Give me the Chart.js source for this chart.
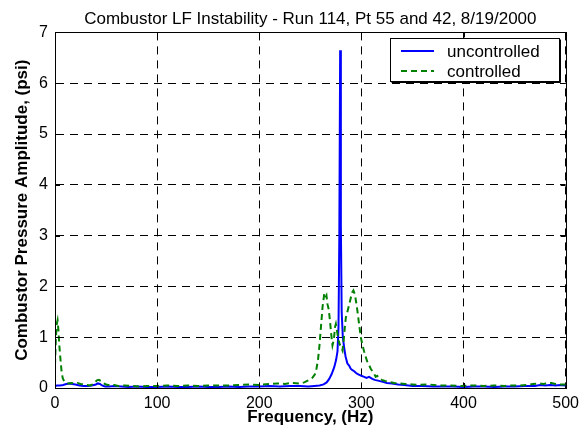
<!DOCTYPE html>
<html>
<head>
<meta charset="utf-8">
<script src="https://cdn.jsdelivr.net/npm/chart.js@4"></script>
<style>
  html, body { margin: 0; padding: 0; background: #fff; }
  #wrap { position: relative; width: 585px; height: 430px; }
</style>
</head>
<body>
<div id="wrap"><canvas id="c"></canvas></div>
<script>
const chartTitle = 'Combustor LF Instability - Run 114, Pt 55 and 42, 8/19/2000';
const xTitle = 'Frequency, (Hz)';
const yTitle = 'Combustor Pressure Amplitude, (psi)';
const seriesNames = ['uncontrolled', 'controlled'];
const xTicks = [0, 100, 200, 300, 400, 500];
const yTicks = [0, 1, 2, 3, 4, 5, 6, 7];

const freqUncontrolled = [
  0, 2, 5, 8, 11, 14, 17, 20, 24, 28,
  32, 36, 40, 42, 44, 46, 49, 53, 58, 65,
  72, 80, 90, 100, 110, 120, 130, 140, 150, 160,
  170, 180, 190, 200, 210, 220, 230, 240, 248, 254,
  259, 263, 266, 268.5, 271, 273.4, 275.2, 276.6, 277.6, 278.4,
  279.2, 279.9, 280.7, 281.8, 283.1, 284.5, 286.3, 288, 289.5, 291.2,
  293, 294.5, 296.1, 298, 300, 302.7, 305, 307.5, 310.7, 313,
  317.3, 321, 325, 330, 336, 342, 350, 360, 370, 380,
  390, 400, 410, 420, 430, 440, 450, 460, 470, 475,
  480, 485, 490, 495, 500
];
const ampUncontrolled = [
  0.04, 0.05, 0.05, 0.06, 0.08, 0.09, 0.08, 0.07, 0.05, 0.04,
  0.04, 0.05, 0.07, 0.09, 0.08, 0.05, 0.03, 0.03, 0.04, 0.03,
  0.02, 0.03, 0.02, 0.02, 0.03, 0.02, 0.02, 0.03, 0.02, 0.02,
  0.03, 0.02, 0.03, 0.03, 0.04, 0.03, 0.04, 0.04, 0.03, 0.04,
  0.05, 0.07, 0.11, 0.18, 0.28, 0.41, 0.55, 0.72, 1.2, 3.0,
  6.65, 3.2, 1.5, 1.0, 0.8, 0.62, 0.48, 0.44, 0.38, 0.35,
  0.33, 0.3, 0.28, 0.26, 0.24, 0.22, 0.2, 0.22, 0.18, 0.16,
  0.14, 0.12, 0.1, 0.09, 0.07, 0.06, 0.04, 0.04, 0.03, 0.03,
  0.03, 0.02, 0.03, 0.03, 0.02, 0.03, 0.03, 0.04, 0.04, 0.06,
  0.05, 0.06, 0.05, 0.06, 0.05
];

const freqControlled = [
  0, 0.8, 1.6, 2.5, 3.3, 4.2, 5.2, 6.3, 7.5, 9,
  11, 13, 16, 19, 22, 25, 28, 31, 34, 37,
  39, 41, 43, 45, 47, 50, 54, 58, 62, 68,
  75, 82, 90, 100, 110, 120, 130, 140, 150, 160,
  170, 180, 190, 200, 210, 218, 225, 232, 239, 244,
  249, 252, 254.5, 256, 257.5, 259, 260.4, 262, 263.6, 264.8,
  265.8, 266.8, 268, 269.2, 270.5, 271.7, 273, 274.2, 275, 276.3,
  277.6, 279, 280.3, 281.5, 282.7, 283.8, 284.8, 286.3, 287.8, 289.7,
  291, 292.2, 293.5, 294.8, 296.1, 297.8, 299.4, 301, 302.7, 304.3,
  306, 307.5, 309.2, 311, 312.5, 314, 315.5, 317.3, 320, 323,
  327, 332, 337, 343, 349.6, 356, 366, 375, 385, 398,
  410, 420, 430, 440, 447, 455, 462, 468, 473.5, 478,
  482, 486, 490, 495, 500
];
const ampControlled = [
  0.45, 0.95, 1.25, 1.33, 1.15, 0.85, 0.6, 0.35, 0.2, 0.13,
  0.1, 0.09, 0.1, 0.09, 0.1, 0.08, 0.07, 0.06, 0.05, 0.07,
  0.11, 0.15, 0.16, 0.14, 0.1, 0.07, 0.05, 0.06, 0.04, 0.05,
  0.04, 0.03, 0.04, 0.04, 0.05, 0.04, 0.05, 0.04, 0.05, 0.05,
  0.05, 0.06, 0.07, 0.06, 0.08, 0.09, 0.08, 0.1, 0.09, 0.11,
  0.16, 0.2, 0.27, 0.38, 0.55, 0.85, 1.2, 1.6, 1.85, 1.78,
  1.82, 1.65, 1.55, 1.33, 1.05, 0.84, 0.95, 1.2, 1.26, 1.1,
  0.94, 0.85, 0.8, 0.74, 0.95, 1.2, 1.39, 1.5, 1.62, 1.78,
  1.88, 1.92, 1.85, 1.7, 1.52, 1.25, 1.0, 0.85, 0.72, 0.61,
  0.5, 0.45, 0.38, 0.32, 0.28, 0.22, 0.24, 0.19, 0.16, 0.14,
  0.12, 0.1, 0.09, 0.08, 0.07, 0.06, 0.07, 0.05, 0.05, 0.04,
  0.05, 0.04, 0.05, 0.04, 0.05, 0.05, 0.06, 0.08, 0.09, 0.08,
  0.09, 0.1, 0.08, 0.07, 0.07
];

function zip(xs, ys) { return xs.map((x, i) => ({ x: x, y: ys[i] })); }

const FONT = "'Liberation Sans', Arial, Helvetica, sans-serif";
Chart.defaults.font.family = FONT;
Chart.defaults.color = '#000';

const frameAndLegend = {
  id: 'frameAndLegend',
  afterDatasetsDraw(chart) {
    const ctx = chart.ctx;
    const a = chart.chartArea;
    const xs = chart.scales.x, ys = chart.scales.y;
    ctx.save();
    ctx.strokeStyle = '#000';
    ctx.lineWidth = 1;
    ctx.setLineDash([]);
    ctx.beginPath();
    xTicks.forEach(v => {
      const px = Math.round(xs.getPixelForValue(v)) + 0.5;
      ctx.moveTo(px, a.bottom); ctx.lineTo(px, a.bottom - 5);
      ctx.moveTo(px, a.top); ctx.lineTo(px, a.top + 5);
    });
    yTicks.forEach(v => {
      const py = Math.round(ys.getPixelForValue(v)) + 0.5;
      ctx.moveTo(a.left, py); ctx.lineTo(a.left + 5, py);
      ctx.moveTo(a.right, py); ctx.lineTo(a.right - 5, py);
    });
    ctx.stroke();
    ctx.strokeRect(Math.round(a.left) + 0.5, Math.round(a.top) + 0.5,
                   Math.round(a.right - a.left), Math.round(a.bottom - a.top));
    const bx = Math.round(a.right) - 176, by = Math.round(a.top) + 6;
    const bw = 169, bh = 43;
    ctx.fillStyle = '#fff';
    ctx.fillRect(bx, by, bw, bh);
    ctx.strokeStyle = '#000';
    ctx.lineWidth = 1;
    ctx.strokeRect(bx + 0.5, by + 0.5, bw, bh);
    ctx.beginPath();
    ctx.moveTo(bx + 1.5, by + bh + 1.5); ctx.lineTo(bx + bw + 1.5, by + bh + 1.5); ctx.lineTo(bx + bw + 1.5, by + 1.5);
    ctx.stroke();
    ctx.font = '17px ' + FONT;
    ctx.textBaseline = 'middle';
    ctx.textAlign = 'left';
    chart.data.datasets.forEach((ds, i) => {
      const yy = by + 13 + i * 20;
      ctx.strokeStyle = ds.borderColor;
      ctx.lineWidth = ds.borderWidth;
      ctx.setLineDash(ds.borderDash || []);
      ctx.beginPath();
      ctx.moveTo(bx + 11, yy); ctx.lineTo(bx + 44, yy);
      ctx.stroke();
      ctx.setLineDash([]);
      ctx.fillStyle = '#000';
      ctx.fillText(ds.label, bx + 57, yy + 1);
    });
    ctx.restore();
  }
};

new Chart(document.getElementById('c'), {
  type: 'line',
  data: {
    datasets: [
      { label: seriesNames[0], data: zip(freqUncontrolled, ampUncontrolled),
        borderColor: '#0000ff', borderWidth: 2, pointRadius: 0, tension: 0, order: 1 },
      { label: seriesNames[1], data: zip(freqControlled, ampControlled),
        borderColor: '#008000', borderWidth: 2, borderDash: [6, 4], pointRadius: 0, tension: 0, order: 0 }
    ]
  },
  options: {
    responsive: true,
    maintainAspectRatio: false,
    animation: false,
    layout: { padding: { left: 0, right: 18, top: 0, bottom: 0 } },
    plugins: {
      legend: { display: false },
      tooltip: { enabled: false },
      title: { display: true, fullSize: false, text: chartTitle, color: '#000',
               font: { size: 17, weight: 'normal' }, padding: { top: 9, bottom: 3 } }
    },
    scales: {
      x: {
        type: 'linear', min: 0, max: 500,
        afterBuildTicks(s) { s.ticks = xTicks.map(v => ({ value: v })); },
        afterFit(s) { s.height = 42; },
        ticks: { font: { size: 16 }, color: '#000', padding: 6, maxRotation: 0 },
        grid: { color: '#000', lineWidth: 1, drawTicks: false },
        border: { display: true, color: '#000', width: 1, dash: [8, 6] },
        title: { display: true, text: xTitle, color: '#000',
                 font: { size: 17, weight: 'bold' }, padding: { top: 0, bottom: 2 } }
      },
      y: {
        type: 'linear', min: 0, max: 7,
        afterBuildTicks(s) { s.ticks = yTicks.map(v => ({ value: v })); },
        afterFit(s) { s.width = 55; },
        ticks: { font: { size: 16 }, color: '#000', padding: 7 },
        grid: { color: '#000', lineWidth: 1, drawTicks: false },
        border: { display: true, color: '#000', width: 1, dash: [8, 6] },
        title: { display: true, text: yTitle, color: '#000',
                 font: { size: 17, weight: 'bold' }, padding: { top: 12, bottom: 0 } }
      }
    }
  },
  plugins: [frameAndLegend]
});
</script>
</body>
</html>
